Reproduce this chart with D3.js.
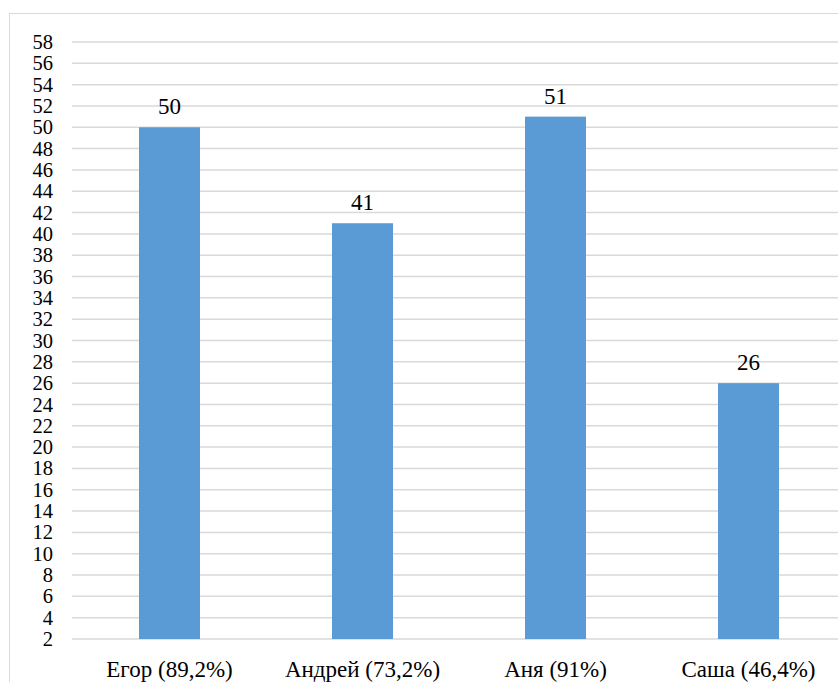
<!DOCTYPE html>
<html><head><meta charset="utf-8">
<script src="https://cdn.jsdelivr.net/npm/d3@7"></script>
<style>body{margin:0;background:#fff}svg{display:block}
svg text{font-family:"Liberation Serif","Tinos","Times New Roman","DejaVu Serif",serif !important;}</style>
</head><body>
<svg id="c" width="838" height="682"></svg>
<script>
const categories = ["Егор (89,2%)", "Андрей (73,2%)", "Аня (91%)", "Саша (46,4%)"];
const values = [50, 41, 51, 26];
const yTicks = d3.range(2, 59, 2);

const svg = d3.select("#c");

svg.append("rect").attr("x", 9.5).attr("y", 13.5).attr("width", 840).attr("height", 700)
  .attr("fill", "#fff").attr("stroke", "#d9d9d9").attr("stroke-width", 1);

const x = d3.scaleBand().domain(categories).range([73, 845]).paddingInner(0.684).paddingOuter(0.342);
const y = d3.scaleLinear().domain([2, 58]).range([639, 42]);

const grid = svg.append("g");
grid.selectAll("line").data(yTicks).join("line")
  .attr("x1", 72).attr("x2", 838)
  .attr("y1", d => y(d)).attr("y2", d => y(d))
  .attr("stroke", "#d9d9d9").attr("stroke-width", 1.5);

const yAxis = svg.append("g").attr("transform", "translate(72,0)")
  .call(d3.axisLeft(y).tickValues(yTicks).tickSize(0).tickPadding(19));
yAxis.select(".domain").remove();
yAxis.selectAll("text").attr("font-size", 20.5).attr("fill", "#000");

svg.append("g").selectAll("text").data(values).join("text")
  .attr("x", (d, i) => x(categories[i]) + x.bandwidth() / 2)
  .attr("y", d => y(d) - 13)
  .attr("text-anchor", "middle")
  .attr("font-size", 23).attr("fill", "#000")
  .text(d => d);

svg.append("g").selectAll("rect").data(values).join("rect")
  .attr("x", (d, i) => x(categories[i]))
  .attr("width", x.bandwidth())
  .attr("y", d => y(d))
  .attr("height", d => y(2) - y(d))
  .attr("fill", "#5b9bd5");

const xAxis = svg.append("g").attr("transform", "translate(0,639)")
  .call(d3.axisBottom(x).tickSize(0).tickPadding(22));
xAxis.select(".domain").remove();
xAxis.selectAll("text").attr("font-size", 23).attr("fill", "#000");
</script>
</body></html>
